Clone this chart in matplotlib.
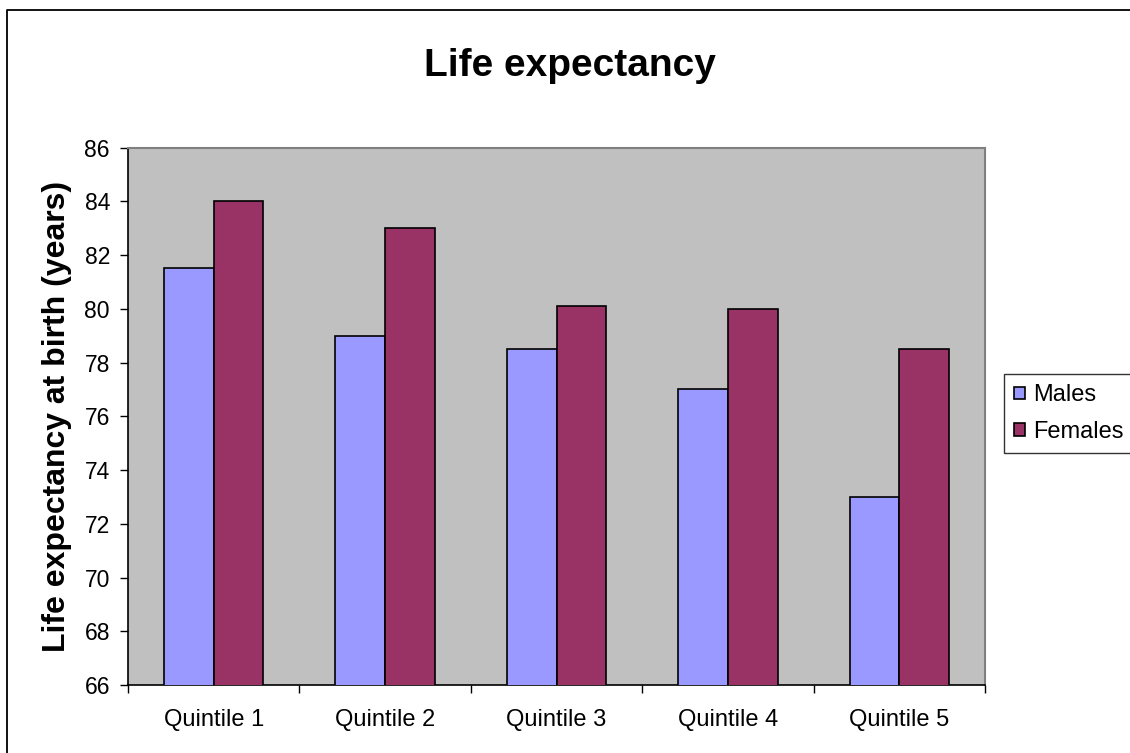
import matplotlib.pyplot as plt
import numpy as np
from matplotlib.lines import Line2D

plt.rcParams['font.family'] = ['Liberation Sans', 'DejaVu Sans']

# Data
quintiles = ['Quintile 1', 'Quintile 2', 'Quintile 3', 'Quintile 4', 'Quintile 5']
males = [81.5, 79.0, 78.5, 77.0, 73.0]
females = [84.0, 83.0, 80.1, 80.0, 78.5]
y_ticks = [66, 68, 70, 72, 74, 76, 78, 80, 82, 84, 86]

MALE_COLOR = '#9999FF'
FEMALE_COLOR = '#993366'

fig = plt.figure(figsize=(11.3, 7.53), dpi=100)
ax = fig.add_axes([0.1133, 0.0903, 0.7584, 0.7138])

# outer chart border (only left and top edges show in the original crop)
fig.lines.append(Line2D([7 / 1130, 7 / 1130, 1.0], [0.0, 1 - 10 / 753, 1 - 10 / 753],
                        transform=fig.transFigure, color='black', linewidth=1.3))

x = np.arange(len(quintiles))
width = 0.29
ax.bar(x - width / 2, males, width, color=MALE_COLOR,
       edgecolor='black', linewidth=1.2, label='Males', zorder=3)
ax.bar(x + width / 2, females, width, color=FEMALE_COLOR,
       edgecolor='black', linewidth=1.2, label='Females', zorder=3)

ax.set_facecolor('#C0C0C0')
ax.set_xlim(-0.5, len(quintiles) - 0.5)
ax.set_ylim(66, 86)
ax.set_yticks(y_ticks)
ax.tick_params(axis='y', labelsize=16.5, direction='out', length=6, width=1, pad=7)

# x ticks sit between the groups, labels centered under them
ax.set_xticks(np.arange(-0.5, len(quintiles)), minor=False)
ax.set_xticklabels([])
ax.set_xticks(x, minor=True)
ax.set_xticklabels(quintiles, minor=True, fontsize=17)
ax.tick_params(axis='x', which='major', direction='out', length=6, width=1)
ax.tick_params(axis='x', which='minor', length=0, pad=17)

for side in ['top', 'right']:
    ax.spines[side].set_color('#808080')
    ax.spines[side].set_linewidth(1.5)
for side in ['left', 'bottom']:
    ax.spines[side].set_color('black')
    ax.spines[side].set_linewidth(1.2)

ax.set_ylabel('Life expectancy at birth (years)', fontsize=23,
              fontweight='bold', labelpad=9)
fig.text(0.5045, 0.912, 'Life expectancy', ha='center', va='center',
         fontsize=28, fontweight='bold')

leg = ax.legend(loc='center left', bbox_to_anchor=(1.022, 0.505), fontsize=17,
                frameon=True, fancybox=False, edgecolor='black',
                handlelength=0.45, handleheight=0.45, handletextpad=0.35,
                borderpad=0.45, labelspacing=0.6, borderaxespad=0)
leg.get_frame().set_linewidth(1.0)

fig.savefig('out.png', dpi=100)
